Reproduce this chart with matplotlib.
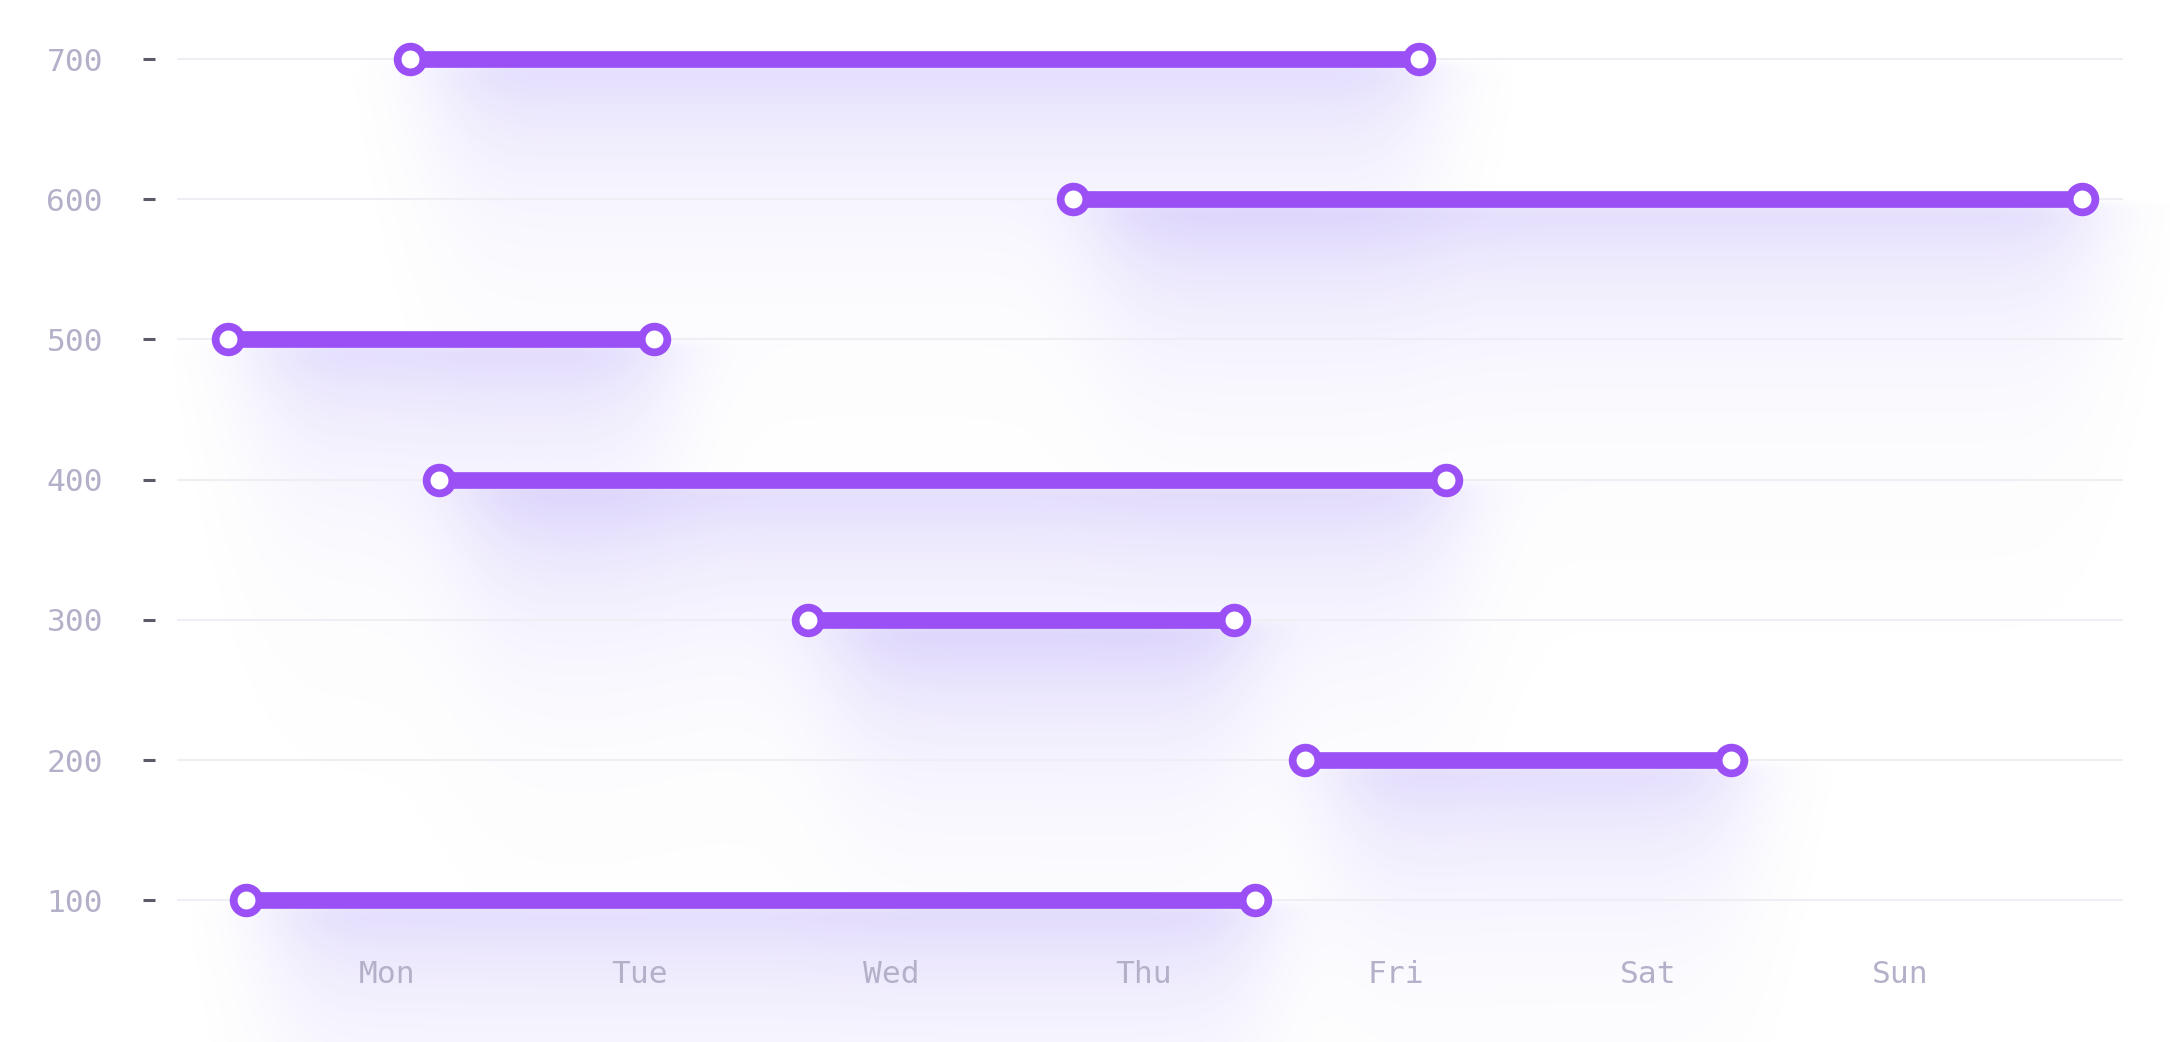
import math
import numpy as np
import matplotlib
matplotlib.use("Agg")
import matplotlib.pyplot as plt

# ranges per level, x in days from Monday
days = ["Mon", "Tue", "Wed", "Thu", "Fri", "Sat", "Sun"]
levels = [700, 600, 500, 400, 300, 200, 100]
starts = [0.09, 2.72, -0.63, 0.205, 1.67, 3.64, -0.56]
ends = [4.09, 6.72, 1.06, 4.20, 3.36, 5.33, 3.44]

purple = "#9b50f6"
label_color = "#b3b1c9"
W, H = 2170, 1042

plt.rcParams["font.family"] = ["DejaVu Sans Mono", "DejaVu Sans"]

fig = plt.figure(figsize=(W / 100, H / 100), dpi=100)
fig.patch.set_facecolor("white")

bg = fig.add_axes([0, 0, 1, 1], zorder=0)
bg.set_axis_off()

ax = fig.add_axes([177 / W, 0, (2123 - 177) / W, 1], zorder=1)
ax.patch.set_visible(False)
ax.set_xlim(-0.8327, 6.883)
ax.set_ylim(-1.1, 742.1)

for s in ax.spines.values():
    s.set_visible(False)
ax.spines["left"].set_position(("outward", 15.8))

ax.set_yticks(levels)
ax.tick_params(axis="y", length=8.6, width=2.2, color="#5b5a66",
               pad=28.8, labelsize=22.5, labelcolor=label_color)
ax.set_xticks([])
ax.grid(axis="y", color="#f0eef5", linewidth=1.5, zorder=0)
ax.set_axisbelow(True)

# day labels along the bottom
for i, d in enumerate(days):
    ax.text(i, 0.0566, d, transform=ax.get_xaxis_transform(),
            ha="center", va="baseline", fontsize=22.5, color=label_color)

# soft purple glow under each range
erf = np.vectorize(math.erf)
xs = np.arange(W) + 0.5
ys = np.arange(H) + 0.5
glow = np.zeros((H, W))
sx = 42.0
for lv, a, b in zip(levels, starts, ends):
    x0p, yp = ax.transData.transform((a, lv))
    x1p, _ = ax.transData.transform((b, lv))
    hx = 0.5 * (erf((xs - (x0p + 30)) / (sx * math.sqrt(2)))
                - erf((xs - (x1p + 10)) / (sx * math.sqrt(2))))
    dist = np.clip(yp - ys, 0, None)
    vy = np.exp(-dist / 105.0) * (1 - np.exp(-dist / 6.0))
    glow += np.outer(vy, hx)

alpha = np.clip(glow * 0.24, 0, 1)
rgba = np.zeros((H, W, 4))
rgba[..., 0] = 0.49
rgba[..., 1] = 0.37
rgba[..., 2] = 0.96
rgba[..., 3] = alpha
bg.imshow(rgba, origin="lower", extent=(0, W, 0, H), interpolation="bilinear")
bg.set_xlim(0, W)
bg.set_ylim(0, H)

for lv, a, b in zip(levels, starts, ends):
    ax.plot([a, b], [lv, lv], color=purple, lw=12, solid_capstyle="butt",
            marker="o", ms=18.5, mfc="white", mec=purple, mew=5.6,
            zorder=3, clip_on=False)

fig.savefig("out.png", dpi=100)
